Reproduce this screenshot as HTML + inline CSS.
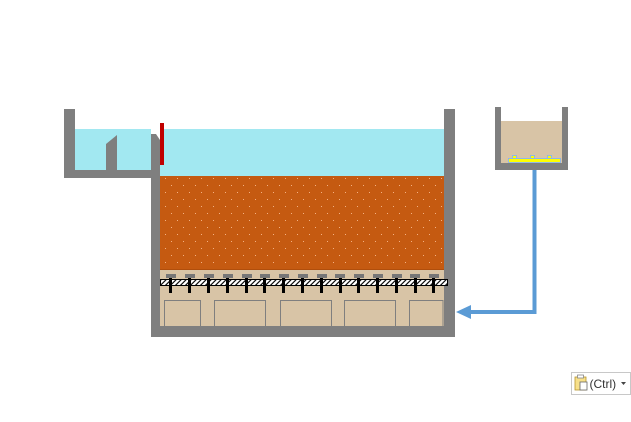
<!DOCTYPE html>
<html><head><meta charset="utf-8"><style>
html,body{margin:0;padding:0;background:#fff;}
svg{display:block;}
</style></head><body>
<svg width="631" height="422" viewBox="0 0 631 422" xmlns="http://www.w3.org/2000/svg">
<defs>
<pattern id="dots" x="160" y="176" width="12" height="14" patternUnits="userSpaceOnUse">
<rect width="12" height="14" fill="#c55a11"/>
<rect x="5" y="2" width="1" height="1" fill="#f4b183"/>
<rect x="11" y="9" width="1" height="1" fill="#f4b183"/>
</pattern>
<pattern id="hatch" x="0" y="279" width="5" height="5" patternUnits="userSpaceOnUse" patternTransform="skewX(-45)">
<rect width="5" height="5" fill="#fff"/>
<rect x="0" y="0" width="1.6" height="5" fill="#000"/>
</pattern>
</defs>
<!-- left tank -->
<rect x="75" y="129" width="76" height="41" fill="#a2e8f1"/>
<rect x="64" y="109" width="11" height="69" fill="#7f7f7f"/>
<rect x="64" y="170" width="96" height="8" fill="#7f7f7f"/>
<polygon points="106,144 117,135 117,170 106,170" fill="#7f7f7f"/>
<!-- main tank -->
<rect x="160" y="129" width="285" height="47" fill="#a2e8f1"/>
<rect x="160" y="176" width="285" height="94" fill="url(#dots)"/>
<rect x="160" y="269" width="285" height="1" fill="#b04e0c"/>
<rect x="160" y="270" width="285" height="56" fill="#d8c4a6"/>
<g fill="none" stroke="#7f7f7f" stroke-width="1">
<path d="M164.5 326V300.5H200.5V326"/>
<path d="M214.5 326V300.5H265.5V326"/>
<path d="M280.5 326V300.5H331.5V326"/>
<path d="M344.5 326V300.5H395.5V326"/>
<path d="M409.5 326V300.5H443V326"/>
</g>
<polygon points="151,134 156,134 160,140 160,337 151,337" fill="#7f7f7f"/>
<rect x="444" y="109" width="11" height="228" fill="#7f7f7f"/>
<rect x="151" y="326" width="304" height="11" fill="#7f7f7f"/>
<!-- caps -->
<g fill="#767676">
<rect x="166" y="274" width="10" height="4"/><rect x="185" y="274" width="10" height="4"/>
<rect x="204" y="274" width="10" height="4"/><rect x="223" y="274" width="10" height="4"/>
<rect x="242" y="274" width="10" height="4"/><rect x="260" y="274" width="10" height="4"/>
<rect x="279" y="274" width="10" height="4"/><rect x="298" y="274" width="10" height="4"/>
<rect x="317" y="274" width="10" height="4"/><rect x="335" y="274" width="10" height="4"/>
<rect x="354" y="274" width="10" height="4"/><rect x="373" y="274" width="10" height="4"/>
<rect x="392" y="274" width="10" height="4"/><rect x="410" y="274" width="10" height="4"/>
<rect x="429" y="274" width="10" height="4"/>
</g>
<rect x="160.5" y="279.5" width="287" height="6" fill="url(#hatch)" stroke="#000" stroke-width="1"/>
<g fill="#000">
<rect x="169" y="278" width="3" height="15"/><rect x="188" y="278" width="3" height="15"/>
<rect x="207" y="278" width="3" height="15"/><rect x="226" y="278" width="3" height="15"/>
<rect x="245" y="278" width="3" height="15"/><rect x="263" y="278" width="3" height="15"/>
<rect x="282" y="278" width="3" height="15"/><rect x="301" y="278" width="3" height="15"/>
<rect x="320" y="278" width="3" height="15"/><rect x="339" y="278" width="3" height="15"/>
<rect x="357" y="278" width="3" height="15"/><rect x="376" y="278" width="3" height="15"/>
<rect x="395" y="278" width="3" height="15"/><rect x="414" y="278" width="3" height="15"/>
<rect x="432" y="278" width="3" height="15"/>
</g>
<!-- red gate -->
<rect x="160" y="123" width="4" height="42" fill="#c00000"/>
<!-- right small tank -->
<rect x="501" y="121" width="61" height="42" fill="#d8c4a6"/>
<rect x="495" y="107" width="6" height="63" fill="#7f7f7f"/>
<rect x="562" y="107" width="6" height="63" fill="#7f7f7f"/>
<rect x="495" y="163" width="73" height="7" fill="#7f7f7f"/>
<g fill="#ffff00" stroke="#8fb8e8" stroke-width="1">
<rect x="512.5" y="155.5" width="4" height="3"/>
<rect x="530.5" y="155.5" width="4" height="3"/>
<rect x="547.5" y="155.5" width="4" height="3"/>
<rect x="508.5" y="158.5" width="52" height="4"/>
</g>
<!-- pipe -->
<polyline points="534.5,170 534.5,312 470,312" fill="none" stroke="#5b9bd5" stroke-width="4"/>
<polygon points="456,312 471,305 471,319" fill="#5b9bd5"/>
<!-- ctrl button -->
<rect x="571.5" y="372.5" width="59" height="22" fill="#fff" stroke="#c8c8c8"/>
<rect x="575" y="377" width="11" height="13" fill="#f7e08a" stroke="#b8962e" stroke-width="0.8"/>
<rect x="577.5" y="375" width="6" height="3" fill="#fff" stroke="#888" stroke-width="0.8"/>
<rect x="580" y="382" width="7" height="8" fill="#fff" stroke="#666" stroke-width="0.8"/>
<text x="589.5" y="388" font-family="Liberation Sans, sans-serif" font-size="12" fill="#333">(Ctrl)</text>
<polygon points="621,382 626,382 623.5,385" fill="#444"/>
</svg>
</body></html>
